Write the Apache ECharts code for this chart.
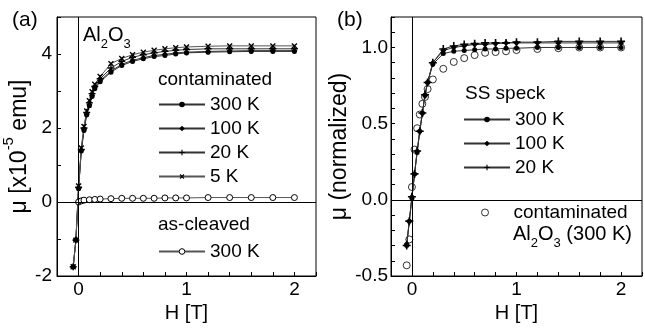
<!DOCTYPE html>
<html>
<head>
<meta charset="utf-8">
<script src="https://cdn.jsdelivr.net/npm/echarts@6/dist/echarts.min.js"></script>
<style>
  html, body { margin: 0; padding: 0; background: #fff; }
  #chart { width: 645px; height: 329px; }
</style>
</head>
<body>
<div id="chart"></div>
<script>
// field values (T) shared by the contaminated / speck runs
const fieldH = [-0.05, -0.025, 0, 0.025, 0.05, 0.075, 0.1, 0.125, 0.15, 0.2, 0.3, 0.4, 0.5, 0.6, 0.7, 0.8, 0.9, 1.0, 1.2, 1.4, 1.6, 1.8, 2.0]
const fieldCleaved = [0, 0.025, 0.05, 0.1, 0.15, 0.2, 0.3, 0.4, 0.5, 0.6, 0.7, 0.8, 0.9, 1.0, 1.2, 1.4, 1.6, 1.8, 2.0]

// panel (a): moment in 1e-5 emu
const contam300 = [-1.75, -1.02, 0.36, 1.38, 1.93, 2.35, 2.6, 2.85, 3.06, 3.25, 3.51, 3.69, 3.8, 3.87, 3.93, 3.96, 4.0, 4.03, 4.05, 4.06, 4.07, 4.07, 4.07]
const contam100 = [-1.76, -1.03, 0.37, 1.39, 1.95, 2.37, 2.63, 2.88, 3.09, 3.28, 3.54, 3.72, 3.83, 3.9, 3.96, 3.99, 4.03, 4.05, 4.07, 4.08, 4.09, 4.09, 4.09]
const contam20 = [-1.75, -1.03, 0.4, 1.42, 2.0, 2.42, 2.68, 2.93, 3.12, 3.33, 3.62, 3.8, 3.91, 3.98, 4.03, 4.07, 4.1, 4.12, 4.14, 4.14, 4.14, 4.14, 4.14]
const contam5 = [-1.75, -1.03, 0.43, 1.46, 2.04, 2.46, 2.74, 2.98, 3.18, 3.39, 3.74, 3.88, 3.98, 4.05, 4.1, 4.14, 4.17, 4.19, 4.21, 4.22, 4.22, 4.22, 4.22]
const cleaved300 = [0.0, 0.03, 0.05, 0.06, 0.07, 0.08, 0.09, 0.1, 0.1, 0.1, 0.1, 0.11, 0.11, 0.11, 0.12, 0.12, 0.12, 0.12, 0.12]

// panel (b): normalized moment
const speck300 = [-0.3, -0.14, 0.01, 0.17, 0.31, 0.45, 0.57, 0.685, 0.77, 0.89, 0.96, 0.975, 0.98, 0.985, 0.99, 0.99, 0.995, 0.995, 1.0, 1.0, 1.0, 1.0, 1.0]
const speck100 = [-0.29, -0.14, 0.02, 0.17, 0.32, 0.45, 0.57, 0.69, 0.77, 0.9, 0.98, 1.0, 1.01, 1.02, 1.02, 1.025, 1.03, 1.03, 1.03, 1.03, 1.03, 1.03, 1.03]
const speck20 = [-0.3, -0.14, 0.02, 0.17, 0.32, 0.45, 0.57, 0.69, 0.77, 0.9, 0.99, 1.01, 1.02, 1.025, 1.03, 1.03, 1.03, 1.035, 1.035, 1.04, 1.04, 1.04, 1.04]
const contamNorm = [-0.43, -0.26, 0.084, 0.33, 0.47, 0.56, 0.63, 0.675, 0.727, 0.79, 0.86, 0.905, 0.93, 0.95, 0.965, 0.97, 0.975, 0.983, 0.99, 0.995, 1.0, 1.0, 1.0]

const tempLabels = ['300 K', '100 K', '20 K', '5 K']

const FONT = '"Liberation Sans", Arial, sans-serif'
const PLUS = 'path://M0,4H10V6H0Z M4,0H6V10H4Z'

const zip = (xs, ys) => ys.map((y, i) => [xs[i], y])

const chart = echarts.init(document.getElementById('chart'), null, { renderer: 'canvas' })

function xAxisFor(gridIndex) {
  return {
    gridIndex,
    type: 'value', min: -0.2, max: 2.2, interval: 0.2,
    axisLine: { onZero: false, lineStyle: { color: '#000', width: 1 } },
    axisTick: { inside: true, length: 4, lineStyle: { color: '#000' } },
    axisLabel: {
      fontSize: 19, fontFamily: FONT, color: '#000', margin: 4,
      formatter: v => (Math.abs(v - Math.round(v)) < 1e-6 && v > -0.1) ? String(Math.round(v)) : ''
    },
    splitLine: { show: false },
    name: 'H [T]', nameLocation: 'middle', nameGap: 26,
    nameTextStyle: { fontSize: 20, fontFamily: FONT, color: '#000' }
  }
}

const zeroLines = {
  silent: true, symbol: 'none', label: { show: false },
  lineStyle: { color: '#000', width: 1, type: 'solid' },
  emphasis: { disabled: true },
  data: [{ xAxis: 0 }, { yAxis: 0 }]
}

function lineSeries(name, xIdx, xs, ys, symbol, size, extra) {
  return Object.assign({
    name, type: 'line', xAxisIndex: xIdx, yAxisIndex: xIdx,
    data: zip(xs, ys), symbol, symbolSize: size, showAllSymbol: true,
    lineStyle: { color: '#333', width: 1 },
    itemStyle: { color: '#000' },
    emphasis: { disabled: true }
  }, extra || {})
}

const legendBase = {
  orient: 'vertical', padding: 0, itemWidth: 46, itemHeight: 7, itemGap: 5,
  selectedMode: false,
  textStyle: { fontSize: 19, fontFamily: FONT, color: '#000' },
  formatter: name => name.replace(/^.*\|/, '')
}

const subRich = {
  n: { fontSize: 20, fontFamily: FONT, lineHeight: 14, verticalAlign: 'top', color: '#000' },
  s: { fontSize: 13, fontFamily: FONT, lineHeight: 26, verticalAlign: 'bottom', color: '#000' }
}

chart.setOption({
  animation: false,
  backgroundColor: '#fff',
  grid: [
    { left: 57, top: 17, width: 259, height: 259, show: true, borderColor: '#000', borderWidth: 1, backgroundColor: 'transparent' },
    { left: 391, top: 17, width: 259, height: 259, show: true, borderColor: '#000', borderWidth: 1, backgroundColor: 'transparent' }
  ],
  xAxis: [xAxisFor(0), xAxisFor(1)],
  yAxis: [
    {
      gridIndex: 0, type: 'value', min: -2, max: 5, interval: 1,
      axisLine: { onZero: false, lineStyle: { color: '#000', width: 1 } },
      axisTick: { inside: true, length: 4, lineStyle: { color: '#000' } },
      axisLabel: {
        fontSize: 19, fontFamily: FONT, color: '#000', margin: 5,
        formatter: v => (v % 2 === 0 && v < 5) ? String(v) : ''
      },
      splitLine: { show: false },
      name: '{n|μ [x10}{s|-5}{n| emu]}', nameLocation: 'middle', nameGap: 11, nameRotate: 90,
      nameTextStyle: {
        rich: {
          n: { fontSize: 23, fontFamily: FONT, color: '#000', lineHeight: 30, verticalAlign: 'bottom' },
          s: { fontSize: 15, fontFamily: FONT, color: '#000', lineHeight: 14, verticalAlign: 'top' }
        }
      }
    },
    {
      gridIndex: 1, type: 'value', min: -0.5, max: 1.2, interval: 0.1,
      axisLine: { onZero: false, lineStyle: { color: '#000', width: 1 } },
      axisTick: { inside: true, length: 4, lineStyle: { color: '#000' } },
      axisLabel: {
        fontSize: 19, fontFamily: FONT, color: '#000', margin: 3,
        formatter: v => {
          const r = Math.round(v * 2)
          return (Math.abs(v * 2 - r) < 1e-6 && v < 1.1) ? (r / 2).toFixed(1) : ''
        }
      },
      splitLine: { show: false },
      name: 'μ (normalized)', nameLocation: 'middle', nameGap: 17, nameRotate: 90,
      nameTextStyle: { fontSize: 23, fontFamily: FONT, color: '#000' }
    }
  ],
  legend: [
    Object.assign({}, legendBase, {
      left: 158, top: 95,
      data: tempLabels.map(t => 'contaminated|' + t)
    }),
    Object.assign({}, legendBase, {
      left: 158, top: 242,
      itemStyle: { borderColor: '#000', borderWidth: 1 },
      data: ['as-cleaved|300 K']
    }),
    Object.assign({}, legendBase, {
      left: 463, top: 110,
      data: tempLabels.slice(0, 3).map(t => 'speck|' + t)
    }),
    Object.assign({}, legendBase, {
      left: 481, top: 203, itemWidth: 7, itemHeight: 7,
      itemStyle: { borderColor: '#000', borderWidth: 1 },
      data: ['contamNorm|contaminated'],
      formatter: name => '{sp|}' + name.replace(/^.*\|/, ''),
      textStyle: { fontSize: 19, fontFamily: FONT, color: '#000', rich: { sp: { width: 20 } } }
    })
  ],
  graphic: [
    { type: 'text', x: 12, y: 20, style: { text: '(a)', font: '21px ' + FONT, fill: '#000', verticalAlign: 'middle' } },
    { type: 'text', x: 337, y: 20, style: { text: '(b)', font: '21px ' + FONT, fill: '#000', verticalAlign: 'middle' } },
    { type: 'text', x: 83, y: 38, style: { text: '{n|Al}{s|2}{n|O}{s|3}', rich: subRich, verticalAlign: 'middle' } },
    { type: 'text', x: 158, y: 80, style: { text: 'contaminated', font: '19px ' + FONT, fill: '#000', verticalAlign: 'middle' } },
    { type: 'text', x: 158, y: 225, style: { text: 'as-cleaved', font: '19px ' + FONT, fill: '#000', verticalAlign: 'middle' } },
    { type: 'text', x: 465, y: 94, style: { text: 'SS speck', font: '19px ' + FONT, fill: '#000', verticalAlign: 'middle' } },
    { type: 'text', x: 513, y: 237, style: { text: '{n|Al}{s|2}{n|O}{s|3}{n| (300 K)}', rich: subRich, verticalAlign: 'middle' } }
  ],
  series: [
    lineSeries('contaminated|300 K', 0, fieldH, contam300, 'circle', 5, { markLine: zeroLines }),
    lineSeries('contaminated|100 K', 0, fieldH, contam100, 'diamond', 6),
    lineSeries('contaminated|20 K', 0, fieldH, contam20, PLUS, 7),
    lineSeries('contaminated|5 K', 0, fieldH, contam5, PLUS, 7, { symbolRotate: 45, lineStyle: { color: '#555', width: 1 } }),
    lineSeries('as-cleaved|300 K', 0, fieldCleaved, cleaved300, 'circle', 6, {
      lineStyle: { color: '#555', width: 1 },
      itemStyle: { color: '#fff', borderColor: '#000', borderWidth: 1 }
    }),
    lineSeries('speck|300 K', 1, fieldH, speck300, 'circle', 5, { markLine: zeroLines }),
    lineSeries('speck|100 K', 1, fieldH, speck100, 'diamond', 6),
    lineSeries('speck|20 K', 1, fieldH, speck20, PLUS, 8),
    {
      name: 'contamNorm|contaminated', type: 'scatter', xAxisIndex: 1, yAxisIndex: 1,
      data: zip(fieldH, contamNorm), symbol: 'circle', symbolSize: 7,
      itemStyle: { color: '#fff', borderColor: '#000', borderWidth: 1 },
      emphasis: { disabled: true }
    }
  ]
})

window.addEventListener('resize', () => chart.resize())
</script>
</body>
</html>
